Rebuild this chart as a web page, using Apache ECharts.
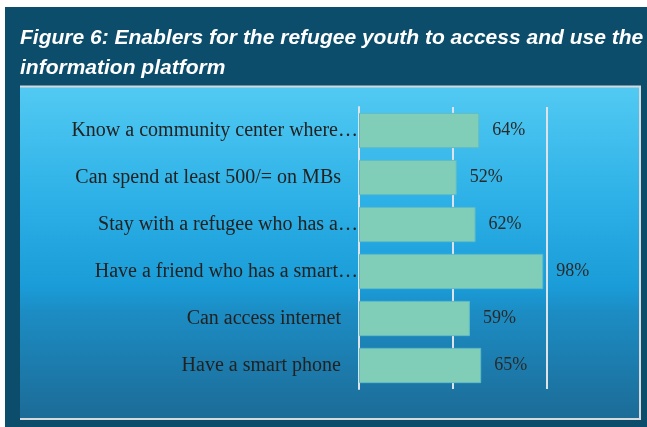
<!DOCTYPE html>
<html>
<head>
<meta charset="utf-8">
<script src="https://cdn.jsdelivr.net/npm/echarts@6/dist/echarts.min.js"></script>
<style>
  html, body { margin: 0; padding: 0; background: #ffffff; }
  #chart { width: 647px; height: 427px; }
</style>
</head>
<body>
<div id="chart"></div>
<script>
// Enablers for refugee youth, share of respondents (%)
const categories = [
  'Know a community center where…',
  'Can spend at least 500/= on MBs',
  'Stay with a refugee who has a…',
  'Have a friend who has a smart…',
  'Can access internet',
  'Have a smart phone'
];
const shares = [64, 52, 62, 98, 59, 65];
const titleLines = [
  'Figure 6: Enablers for the refugee youth to access and use the',
  'information platform'
];

const chart = echarts.init(document.getElementById('chart'), null, { renderer: 'canvas' });

// Truncated labels run their ellipsis up to the axis; full labels sit a bit further left.
const categoryItems = categories.map(name => ({
  value: name,
  textStyle: { padding: [0, name.endsWith('…') ? 0 : 17, 0, 0] }
}));

chart.setOption({
  animation: false,
  graphic: [
    {
      type: 'rect', z: -10,
      shape: { x: 5, y: 7, width: 642, height: 420 },
      style: { fill: '#0b4d6b' }
    },
    {
      type: 'rect', z: -9,
      shape: { x: 20, y: 86, width: 621, height: 334 },
      style: {
        fill: {
          type: 'linear', x: 0, y: 0, x2: 0, y2: 1,
          colorStops: [
            { offset: 0, color: '#52caf3' },
            { offset: 0.35, color: '#2cb0e6' },
            { offset: 0.6, color: '#1a9cd8' },
            { offset: 0.68, color: '#1c8cc3' },
            { offset: 1, color: '#1c6b96' }
          ]
        }
      }
    },
    {
      // light frame on the top, right and bottom of the panel
      type: 'polyline', z: -8,
      shape: { points: [[20, 86.5], [640, 86.5], [640, 419], [20, 419]] },
      style: { stroke: '#d6dadd', lineWidth: 2, fill: null }
    },
    {
      type: 'text', z: 10,
      left: 20, top: 23,
      style: {
        text: titleLines.join('\n'),
        fill: '#ffffff',
        font: 'italic bold 21px "Liberation Sans", Arial, sans-serif',
        lineHeight: 30
      }
    }
  ],
  grid: { left: 359, top: 107, width: 188, height: 282 },
  xAxis: {
    type: 'value',
    min: 0, max: 100, interval: 50,
    axisLine: { show: false },
    axisTick: { show: false },
    axisLabel: { show: false },
    splitLine: { show: true, lineStyle: { color: '#dde3e6', width: 2 } }
  },
  yAxis: {
    type: 'category',
    inverse: true,
    data: categoryItems,
    axisLine: { show: true, lineStyle: { color: '#dde3e6', width: 2 } },
    axisTick: { show: false },
    axisLabel: {
      margin: 1,
      color: '#222222',
      fontFamily: '"Liberation Serif", "Times New Roman", serif',
      fontSize: 20
    }
  },
  series: [{
    type: 'bar',
    data: shares,
    barCategoryGap: '25%',
    itemStyle: { color: '#80cdb8', borderColor: '#5fbcc6', borderWidth: 1 },
    label: {
      show: true,
      position: 'right',
      distance: 13,
      formatter: p => p.value + '%',
      color: '#2a2a2a',
      fontFamily: '"Liberation Serif", "Times New Roman", serif',
      fontSize: 18
    }
  }]
});
</script>
</body>
</html>
